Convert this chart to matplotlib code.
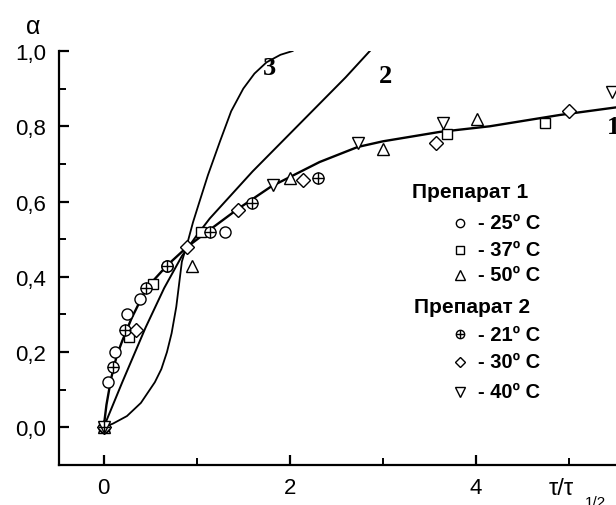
import matplotlib
matplotlib.use("Agg")
import matplotlib.pyplot as plt

plt.rcParams['font.family'] = ['Liberation Sans', 'DejaVu Sans']

# ---- data ----
# curve 1 (fit through experimental points)
tau_c1 = [0, 0.03, 0.08, 0.14, 0.2, 0.3, 0.46, 0.68, 0.9, 1.14, 1.44, 1.8, 2.32, 2.73, 3.0, 3.61, 4.15, 4.9, 5.5]
alpha_c1 = [0, 0.06, 0.13, 0.19, 0.23, 0.29, 0.37, 0.43, 0.48, 0.525, 0.58, 0.64, 0.705, 0.745, 0.76, 0.785, 0.80, 0.83, 0.85]
# curve 2
tau_c2 = [0, 0.2, 0.45, 0.65, 0.84, 1.0, 1.14, 1.6, 2.0, 2.32, 2.6, 2.86]
alpha_c2 = [0, 0.12, 0.265, 0.37, 0.455, 0.51, 0.555, 0.68, 0.78, 0.86, 0.93, 1.0]
# curve 3
tau_c3 = [0, 0.1, 0.25, 0.4, 0.55, 0.62, 0.68, 0.73, 0.78, 0.81, 0.84, 0.9, 0.96, 1.03, 1.12, 1.25, 1.37, 1.5, 1.62, 1.75, 1.9, 2.03]
alpha_c3 = [0, 0.01, 0.03, 0.065, 0.12, 0.155, 0.20, 0.25, 0.32, 0.38, 0.44, 0.49, 0.545, 0.60, 0.67, 0.76, 0.84, 0.90, 0.94, 0.97, 0.99, 1.0]

# Препарат 1
tau_25 = [0, 0.05, 0.12, 0.25, 0.39, 0.68, 1.3]
alpha_25 = [0, 0.12, 0.20, 0.30, 0.34, 0.43, 0.52]
tau_37 = [0, 0.27, 0.53, 1.05, 3.69, 4.74]
alpha_37 = [0, 0.24, 0.38, 0.52, 0.78, 0.81]
tau_50 = [0, 0.95, 2.0, 3.0, 4.01]
alpha_50 = [0, 0.43, 0.663, 0.74, 0.82]
# Препарат 2
tau_21 = [0, 0.10, 0.23, 0.46, 0.68, 1.14, 1.59, 2.3]
alpha_21 = [0, 0.16, 0.26, 0.37, 0.43, 0.52, 0.597, 0.663]
tau_30 = [0, 0.35, 0.9, 1.44, 2.14, 3.57, 5.0]
alpha_30 = [0, 0.26, 0.48, 0.578, 0.658, 0.756, 0.84]
tau_40 = [0, 1.82, 2.73, 3.65, 5.46]
alpha_40 = [0, 0.645, 0.756, 0.81, 0.89]

ytick_vals = [0.0, 0.2, 0.4, 0.6, 0.8, 1.0]
ytick_labels = ['0,0', '0,2', '0,4', '0,6', '0,8', '1,0']
xtick_vals = [0, 2, 4]
xtick_labels = ['0', '2', '4']

legend_groups = ['Препарат 1', 'Препарат 2']
legend_labels = ['- 25º C', '- 37º C', '- 50º C', '- 21º C', '- 30º C', '- 40º C']

# ---- figure ----
fig = plt.figure(figsize=(6.16, 5.06), dpi=100)
ax = fig.add_axes([59/616, 1 - 466/506, 1 - 59/616, (466 - 52)/506])
ax.set_xlim(-0.48, 5.505)
ax.set_ylim(-0.1, 1.0)

ax.plot(tau_c1, alpha_c1, color='black', lw=1.7, zorder=2)
ax.plot(tau_c2, alpha_c2, color='black', lw=1.4, zorder=2)
ax.plot(tau_c3, alpha_c3, color='black', lw=1.3, zorder=2)

ms = 8
mk = dict(linestyle='none', mfc='white', mec='black', mew=1.0, zorder=3)
ax.plot(tau_25, alpha_25, marker='o', ms=ms, **mk)
ax.plot(tau_37, alpha_37, marker='s', ms=ms - 0.5, **mk)
ax.plot(tau_50, alpha_50, marker='^', ms=ms + 1, **mk)
ax.plot(tau_21, alpha_21, marker='o', ms=ms, **mk)
ax.plot(tau_21, alpha_21, marker='+', ms=ms, linestyle='none', mec='black', mew=1.0, zorder=4)
ax.plot(tau_30, alpha_30, marker='D', ms=ms - 1, **mk)
ax.plot(tau_40, alpha_40, marker='v', ms=ms + 1, **mk)

# curve labels
lab = dict(fontsize=19, fontweight='bold', family='Liberation Serif', ha='center', va='center')
ax.text(1.78, 0.955, '3', **lab)
ax.text(3.03, 0.935, '2', **lab)
ax.text(5.48, 0.80, '1', clip_on=False, **lab)

# legend drawn manually
ax.text(3.31, 0.626, legend_groups[0], fontsize=15, fontweight='bold', va='center', ha='left')
ax.text(3.33, 0.32, legend_groups[1], fontsize=15, fontweight='bold', va='center', ha='left')
ly = [0.544, 0.472, 0.406, 0.247, 0.175, 0.095]
lmk = ['o', 's', '^', 'o', 'D', 'v']
lms = [6, 5.5, 6.5, 6, 5.5, 6.5]
for i in range(6):
    ax.plot([3.83], [ly[i]], marker=lmk[i], ms=lms[i], linestyle='none',
            mfc='white', mec='black', mew=1.0, zorder=3)
    if i == 3:
        ax.plot([3.83], [ly[i]], marker='+', ms=6, linestyle='none', mec='black', mew=1.0, zorder=4)
    ax.text(4.02, ly[i], legend_labels[i], fontsize=14.5, fontweight='bold', va='center', ha='left')

# axes styling
for s in ['top', 'right']:
    ax.spines[s].set_visible(False)
for s in ['left', 'bottom']:
    ax.spines[s].set_linewidth(1.6)
ax.set_yticks(ytick_vals)
ax.set_yticklabels(ytick_labels, fontsize=16)
ax.set_yticks([-0.1 + 0.2 * k for k in range(1, 5)] + [0.9], minor=True)
ax.set_xticks(xtick_vals)
ax.set_xticklabels(xtick_labels, fontsize=16)
ax.set_xticks([1, 3, 5], minor=True)
ax.tick_params(which='major', direction='in', length=7, width=1.6, pad=9)
ax.tick_params(which='minor', direction='in', length=5, width=1.4)

fig.text(33/616, 1 - 27/506, 'α', fontsize=18, ha='center', va='center')
fig.text(549/616, 1 - 489/506, 'τ/τ', fontsize=17, ha='left', va='center')
fig.text(585/616, 1 - 503/506, '1/2', fontsize=11, ha='left', va='center')

fig.savefig('out.png', dpi=100)
